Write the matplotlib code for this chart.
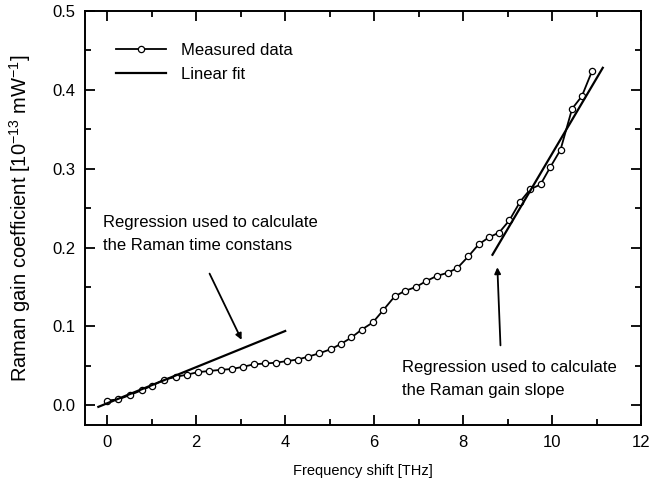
import matplotlib
matplotlib.use("Agg")
from matplotlib import pyplot as plt
import numpy as np

plt.rcParams["font.family"] = ["Liberation Sans", "DejaVu Sans"]
plt.rcParams["mathtext.default"] = "regular"

# Measured Raman gain
freq = [0, 0.25, 0.51, 0.77, 1.01, 1.28, 1.54, 1.80, 2.04, 2.29,
        2.56, 2.80, 3.05, 3.30, 3.55, 3.79, 4.03, 4.28, 4.52, 4.77,
        5.02, 5.26, 5.49, 5.72, 5.97, 6.21, 6.46, 6.69, 6.94, 7.17,
        7.41, 7.65, 7.87, 8.12, 8.35, 8.58, 8.81, 9.04, 9.28, 9.51,
        9.74, 9.96, 10.19, 10.45, 10.67, 10.90]
gain = [0.006, 0.0075, 0.013, 0.019, 0.025, 0.0325, 0.036, 0.039, 0.042, 0.0435,
        0.045, 0.046, 0.0488, 0.052, 0.053, 0.054, 0.056, 0.058, 0.0617, 0.066,
        0.071, 0.078, 0.086, 0.096, 0.105, 0.121, 0.138, 0.145, 0.150, 0.1575,
        0.164, 0.168, 0.174, 0.189, 0.204, 0.213, 0.219, 0.2345, 0.258, 0.274,
        0.280, 0.302, 0.324, 0.376, 0.392, 0.424]

# Linear fits: (x start, x end, slope, intercept)
fit_low = (-0.2, 4.0, 0.0229, 0.0026)
fit_high = (8.66, 11.14, 0.0956, -0.637)

fig = plt.figure(figsize=(6.5, 4.87), dpi=100)
ax = fig.add_axes([0.1308, 0.1273, 0.8554, 0.8501])

ax.plot(freq, gain, color="black", linewidth=1.3, marker="o", markersize=4.5,
        markerfacecolor="white", markeredgecolor="black", markeredgewidth=0.9,
        label="Measured data")

for i, (x0, x1, k, b) in enumerate([fit_low, fit_high]):
    xs = np.array([x0, x1])
    ax.plot(xs, k * xs + b, color="black", linewidth=1.6,
            label="Linear fit" if i == 0 else None)

ax.annotate("", xy=(3.02, 0.083), xytext=(2.30, 0.167),
            arrowprops=dict(arrowstyle="-|>", color="black", lw=1.3,
                            mutation_scale=9, shrinkA=0, shrinkB=0))
ax.annotate("", xy=(8.77, 0.175), xytext=(8.84, 0.076),
            arrowprops=dict(arrowstyle="-|>", color="black", lw=1.3,
                            mutation_scale=9, shrinkA=0, shrinkB=0))

ax.text(-0.1, 0.217, "Regression used to calculate\nthe Raman time constans",
        fontsize=12, va="center", ha="left", linespacing=1.65)
ax.text(6.63, 0.033, "Regression used to calculate\nthe Raman gain slope",
        fontsize=12, va="center", ha="left", linespacing=1.65)

ax.set_xlim(-0.5, 12)
ax.set_ylim(-0.025, 0.498)
ax.set_xticks([0, 2, 4, 6, 8, 10, 12])
ax.set_xticks([1, 3, 5, 7, 9, 11], minor=True)
ax.set_yticks([0.0, 0.1, 0.2, 0.3, 0.4, 0.5])
ax.set_yticks([0.05, 0.15, 0.25, 0.35, 0.45], minor=True)
ax.set_yticklabels(["0.0", "0.1", "0.2", "0.3", "0.4", "0.5"])
ax.tick_params(which="both", direction="in", top=True, right=True,
               labelsize=12, width=1.3)
ax.tick_params(which="major", length=7, pad=7)
ax.tick_params(which="minor", length=4)
for s in ax.spines.values():
    s.set_linewidth(1.4)

ax.set_xlabel("Frequency shift [THz]", fontsize=10.5, labelpad=10)
ax.set_ylabel("Raman gain coefficient [10$^{-13}$ mW$^{-1}$]", fontsize=14.5,
              labelpad=14)

ax.legend(loc="upper left", bbox_to_anchor=(0.029, 0.96), frameon=False,
          fontsize=12, handlelength=3.0, handletextpad=0.9, numpoints=1,
          labelspacing=0.55)

fig.savefig("out.png", dpi=100)
